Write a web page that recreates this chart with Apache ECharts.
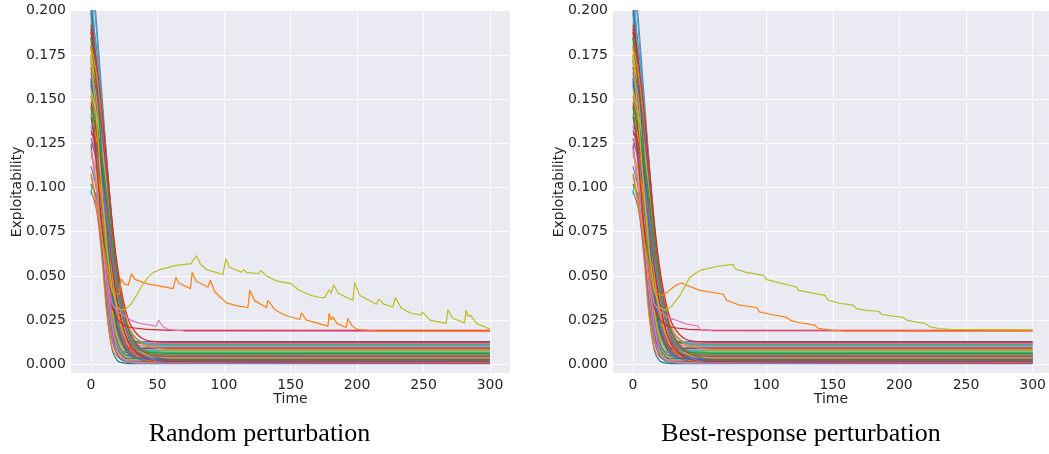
<!DOCTYPE html>
<html><head><meta charset="utf-8">
<script src="https://cdn.jsdelivr.net/npm/echarts@6/dist/echarts.min.js"></script>
<style>html,body{margin:0;padding:0;background:#fff}#c{width:1049px;height:454px}</style>
</head><body><div id="c"></div>
<script>
// ---------- data ----------
const panelTitles = ['Random perturbation', 'Best-response perturbation'];
const xTicks = [0, 50, 100, 150, 200, 250, 300];
const yTicks = [0, 0.025, 0.05, 0.075, 0.1, 0.125, 0.15, 0.175, 0.2];
// sample times for the ordinary runs
const runTimes = [0, 4, 8, 12, 16, 20, 25, 30, 40, 60, 300];
// ordinary runs (shared by both panels), exploitability at runTimes
const baseRuns = [
  [0.162,0.118,0.072,0.030,0.008,0.002,0.0006,0.0004,0.0003,0.0003,0.0003],
  [0.108,0.092,0.062,0.028,0.009,0.004,0.0025,0.0022,0.0021,0.0021,0.0021],
  [0.185,0.140,0.092,0.048,0.016,0.005,0.0016,0.0010,0.0009,0.0009,0.0009],
  [0.130,0.128,0.090,0.046,0.018,0.008,0.0052,0.0048,0.0047,0.0047,0.0047],
  [0.175,0.135,0.090,0.045,0.017,0.0065,0.0035,0.0030,0.0030,0.0030,0.0030],
  [0.124,0.100,0.070,0.038,0.016,0.009,0.0070,0.0066,0.0065,0.0065,0.0065],
  [0.142,0.112,0.077,0.040,0.015,0.006,0.0030,0.0025,0.0024,0.0024,0.0024],
  [0.098,0.088,0.065,0.035,0.013,0.005,0.0020,0.0016,0.0015,0.0015,0.0015],
  [0.195,0.150,0.103,0.058,0.025,0.010,0.0050,0.0042,0.0040,0.0040,0.0040],
  [0.220,0.170,0.112,0.060,0.026,0.011,0.0058,0.0055,0.0055,0.0055,0.0055],
  [0.200,0.158,0.110,0.068,0.034,0.016,0.0095,0.0082,0.0080,0.0080,0.0080],
  [0.168,0.135,0.098,0.060,0.030,0.015,0.0112,0.0108,0.0106,0.0105,0.0105],
  [0.146,0.118,0.085,0.050,0.022,0.009,0.0040,0.0033,0.0032,0.0032,0.0032],
  [0.180,0.148,0.108,0.070,0.038,0.020,0.0140,0.0125,0.0120,0.0120,0.0120],
  [0.112,0.100,0.080,0.052,0.026,0.012,0.0060,0.0050,0.0048,0.0048,0.0048],
  [0.190,0.155,0.115,0.075,0.040,0.020,0.0110,0.0092,0.0090,0.0090,0.0090],
  [0.135,0.112,0.083,0.050,0.022,0.008,0.0025,0.0012,0.0008,0.0008,0.0008],
  [0.158,0.130,0.095,0.060,0.030,0.013,0.0060,0.0040,0.0036,0.0036,0.0036],
  [0.120,0.105,0.082,0.055,0.030,0.015,0.0080,0.0072,0.0070,0.0070,0.0070],
  [0.096,0.112,0.104,0.085,0.060,0.040,0.0230,0.0130,0.0060,0.0040,0.0040],
  [0.172,0.142,0.106,0.070,0.040,0.022,0.0150,0.0130,0.0128,0.0128,0.0128],
  [0.152,0.128,0.098,0.065,0.036,0.018,0.0090,0.0060,0.0055,0.0055,0.0055],
  [0.102,0.095,0.080,0.058,0.035,0.019,0.0100,0.0065,0.0058,0.0058,0.0058],
  [0.188,0.160,0.125,0.088,0.052,0.028,0.0140,0.0080,0.0050,0.0045,0.0045],
  [0.165,0.140,0.110,0.075,0.045,0.025,0.0125,0.0070,0.0042,0.0040,0.0040],
  [0.140,0.122,0.098,0.068,0.040,0.022,0.0110,0.0060,0.0020,0.0012,0.0012],
  [0.212,0.175,0.135,0.095,0.060,0.034,0.0180,0.0120,0.0105,0.0102,0.0102],
  [0.128,0.115,0.095,0.070,0.045,0.027,0.0150,0.0110,0.0095,0.0095,0.0095],
  [0.178,0.152,0.120,0.085,0.052,0.030,0.0160,0.0100,0.0075,0.0075,0.0075],
  [0.198,0.170,0.135,0.098,0.062,0.036,0.0190,0.0115,0.0080,0.0068,0.0068],
  [0.160,0.140,0.115,0.085,0.055,0.033,0.0180,0.0100,0.0040,0.0020,0.0020],
  [0.118,0.110,0.095,0.074,0.050,0.031,0.0170,0.0090,0.0030,0.0010,0.0010],
  [0.185,0.162,0.132,0.098,0.066,0.041,0.0230,0.0150,0.0115,0.0112,0.0112],
  [0.148,0.132,0.110,0.083,0.056,0.035,0.0190,0.0100,0.0035,0.0015,0.0005],
  [0.230,0.195,0.155,0.115,0.078,0.048,0.0260,0.0140,0.0060,0.0030,0.0025],
  [0.132,0.125,0.110,0.090,0.065,0.042,0.0230,0.0120,0.0040,0.0018,0.0018],
  [0.170,0.152,0.128,0.100,0.070,0.045,0.0260,0.0170,0.0125,0.0120,0.0120],
  [0.202,0.180,0.150,0.115,0.080,0.052,0.0300,0.0170,0.0080,0.0050,0.0050],
  [0.155,0.142,0.122,0.097,0.070,0.046,0.0270,0.0150,0.0060,0.0035,0.0035],
  [0.225,0.190,0.150,0.110,0.075,0.048,0.0280,0.0180,0.0120,0.0110,0.0110],
  [0.205,0.165,0.120,0.078,0.042,0.020,0.0090,0.0050,0.0030,0.0028,0.0028],
  [0.180,0.165,0.140,0.110,0.078,0.052,0.0310,0.0190,0.0110,0.0085,0.0085],
  [0.145,0.135,0.118,0.095,0.068,0.044,0.0250,0.0140,0.0070,0.0062,0.0062],
  [0.192,0.172,0.145,0.112,0.080,0.055,0.0340,0.0220,0.0140,0.0125,0.0125],
  [0.125,0.118,0.104,0.084,0.060,0.040,0.0230,0.0130,0.0050,0.0007,0.0007],
  [0.168,0.155,0.134,0.106,0.075,0.050,0.0290,0.0160,0.0070,0.0026,0.0026]
];
// perturbed runs, [time, exploitability]
const redRun = [[0,0.130],[2,0.130],[4,0.115],[8,0.080],[12,0.050],[16,0.032],[20,0.025],[25,0.022],[29.3,0.0208],[41.8,0.0197],[60,0.0192],[300,0.0192]];
const pinkRandom = [[0,0.122],[4,0.100],[8,0.072],[12,0.048],[16,0.034],[20,0.030],[24.3,0.0278],[30,0.025],[36.8,0.0231],[49.3,0.0216],[50.8,0.025],[54,0.0215],[58,0.0197],[70,0.0188],[300,0.0186]];
const orangeRandom = [[0,0.107],[4,0.090],[8,0.072],[12,0.055],[16,0.041],[18,0.0398],[21.5,0.0398],[22.5,0.0484],[25,0.0455],[28,0.0447],[30.5,0.0512],[33,0.048],[41.8,0.0456],[61.8,0.0428],[63.8,0.0493],[66,0.046],[74.8,0.0428],[76.1,0.0521],[79,0.047],[88,0.0437],[89.8,0.0475],[93,0.041],[101.8,0.0347],[110,0.033],[118,0.0321],[119.4,0.0418],[123,0.036],[131.9,0.0321],[133.1,0.0362],[138,0.031],[145,0.028],[156.9,0.0253],[158.2,0.029],[162,0.025],[178.2,0.0216],[179,0.0287],[180.5,0.025],[181.9,0.0268],[185,0.023],[191.9,0.0208],[193.1,0.0259],[196,0.022],[200,0.0197],[215,0.0188],[300,0.0187]];
const oliveRandom = [[0,0.175],[4,0.140],[8,0.100],[12,0.065],[16,0.042],[20,0.032],[22.5,0.0306],[26,0.031],[30,0.034],[34.3,0.039],[38,0.044],[43,0.0493],[47,0.052],[51.8,0.0535],[64,0.0559],[75.5,0.0569],[76.5,0.0585],[77.3,0.0575],[79.3,0.0615],[82,0.057],[86.8,0.0535],[99.3,0.0508],[101.4,0.0597],[104,0.055],[113,0.0521],[114.9,0.0535],[117,0.052],[126,0.0512],[127.6,0.0531],[132,0.050],[140,0.047],[150.7,0.0456],[151.9,0.0465],[156,0.042],[165,0.039],[174.4,0.0375],[176,0.038],[179,0.0422],[180.5,0.040],[182.4,0.045],[186,0.040],[196.9,0.0362],[198.2,0.0462],[202,0.039],[214.5,0.034],[216.5,0.0368],[220,0.034],[227,0.0324],[228.8,0.0377],[233,0.032],[240,0.029],[248.2,0.0278],[249,0.0296],[255,0.025],[267,0.0231],[268.3,0.0306],[272,0.026],[280.8,0.0234],[282,0.0306],[283.5,0.027],[285.3,0.0278],[290,0.023],[300,0.0199]];
const pinkBest = [[0,0.122],[4,0.100],[8,0.072],[12,0.048],[16,0.034],[20,0.030],[25.3,0.0268],[40.3,0.0227],[49,0.0216],[50.3,0.0197],[60,0.0189],[300,0.0187]];
const orangeBest = [[0,0.107],[4,0.090],[8,0.072],[12,0.055],[16,0.041],[17.8,0.040],[22.8,0.039],[29,0.0428],[33,0.045],[36.6,0.046],[40.3,0.0447],[50.3,0.0418],[67.8,0.0396],[70.3,0.0362],[80.3,0.0334],[92.8,0.0321],[94.8,0.0296],[105,0.028],[115.4,0.0265],[117.9,0.025],[125,0.0235],[136.6,0.0221],[139.1,0.0203],[147.9,0.0193],[160,0.0188],[300,0.0187]];
const oliveBest = [[0,0.175],[4,0.140],[8,0.100],[12,0.065],[16,0.042],[20,0.032],[24,0.0306],[28,0.032],[35.3,0.039],[42.8,0.0493],[50.3,0.0531],[62.8,0.0553],[75.3,0.0565],[76.6,0.054],[85,0.052],[97.8,0.0503],[100.4,0.0479],[110,0.046],[122.9,0.0437],[124.1,0.0418],[135,0.0402],[144.1,0.039],[146.6,0.0362],[155,0.0345],[165.4,0.0334],[167.9,0.0315],[175,0.0305],[184.2,0.030],[186.7,0.0283],[195,0.0272],[202.9,0.0265],[205.4,0.025],[212,0.024],[219.2,0.0231],[222.9,0.0212],[230,0.0202],[238,0.0197],[300,0.0194]];

// ---------- build ----------
const palette = ['#1f77b4','#ff7f0e','#2ca02c','#d62728','#9467bd','#8c564b','#e377c2','#7f7f7f','#bcbd22','#17becf'];
const specials = [
  [[redRun,'#d62728'],[pinkRandom,'#e377c2'],[orangeRandom,'#ff7f0e'],[oliveRandom,'#bcbd22']],
  [[redRun,'#d62728'],[pinkBest,'#e377c2'],[orangeBest,'#ff7f0e'],[oliveBest,'#bcbd22']]
];
const grids = [
  {left: 71, top: 10.7, width: 439, height: 362.4},
  {left: 613, top: 10.7, width: 436, height: 362.4}
];
const xMax = [315, 312.2];
const font = 'DejaVu Sans';
const txt = '#262626';

const series = [];
const xAxis = [], yAxis = [];
for (let p = 0; p < 2; p++) {
  xAxis.push({
    type: 'value', gridIndex: p, min: -15, max: xMax[p],
    name: 'Time', nameLocation: 'middle', nameGap: 19, nameMoveOverlap: false,
    nameTextStyle: {fontFamily: font, fontSize: 14, color: txt},
    axisLine: {show: false}, axisTick: {show: false, customValues: xTicks},
    axisLabel: {customValues: xTicks, fontFamily: font, fontSize: 14, color: txt, margin: 5},
    splitLine: {show: true, lineStyle: {color: '#ffffff', width: 1}}
  });
  yAxis.push({
    type: 'value', gridIndex: p, min: -0.005, max: 0.2,
    name: 'Exploitability', nameLocation: 'middle', nameGap: 47, nameMoveOverlap: false,
    nameTextStyle: {fontFamily: font, fontSize: 14, color: txt},
    axisLine: {show: false}, axisTick: {show: false, customValues: yTicks},
    axisLabel: {customValues: yTicks, fontFamily: font, fontSize: 14, color: txt, margin: 5,
      formatter: v => v.toFixed(3)},
    splitLine: {show: true, lineStyle: {color: '#ffffff', width: 1}}
  });
  baseRuns.forEach((run, i) => {
    series.push({
      type: 'line', xAxisIndex: p, yAxisIndex: p, showSymbol: false, smooth: 0.3,
      data: run.map((v, k) => [runTimes[k], v]),
      lineStyle: {width: 1.2, color: palette[i % 10]}, itemStyle: {color: palette[i % 10]},
      silent: true, z: 2
    });
  });
  specials[p].forEach(([d, c]) => {
    series.push({
      type: 'line', xAxisIndex: p, yAxisIndex: p, showSymbol: false,
      data: d, lineStyle: {width: 1.2, color: c}, itemStyle: {color: c}, silent: true, z: 3
    });
  });
}

const chart = echarts.init(document.getElementById('c'), null, {renderer: 'canvas'});
chart.setOption({
  animation: false,
  backgroundColor: '#ffffff',
  grid: grids.map(g => Object.assign({show: true, backgroundColor: '#eaeaf2', borderWidth: 0}, g)),
  xAxis, yAxis, series,
  graphic: panelTitles.map((t, p) => ({
    type: 'text',
    x: [259.5, 801][p], y: 434,
    style: {text: t, font: '26px "Liberation Serif"', fill: '#000', textAlign: 'center', textVerticalAlign: 'middle'}
  }))
});
</script></body></html>
